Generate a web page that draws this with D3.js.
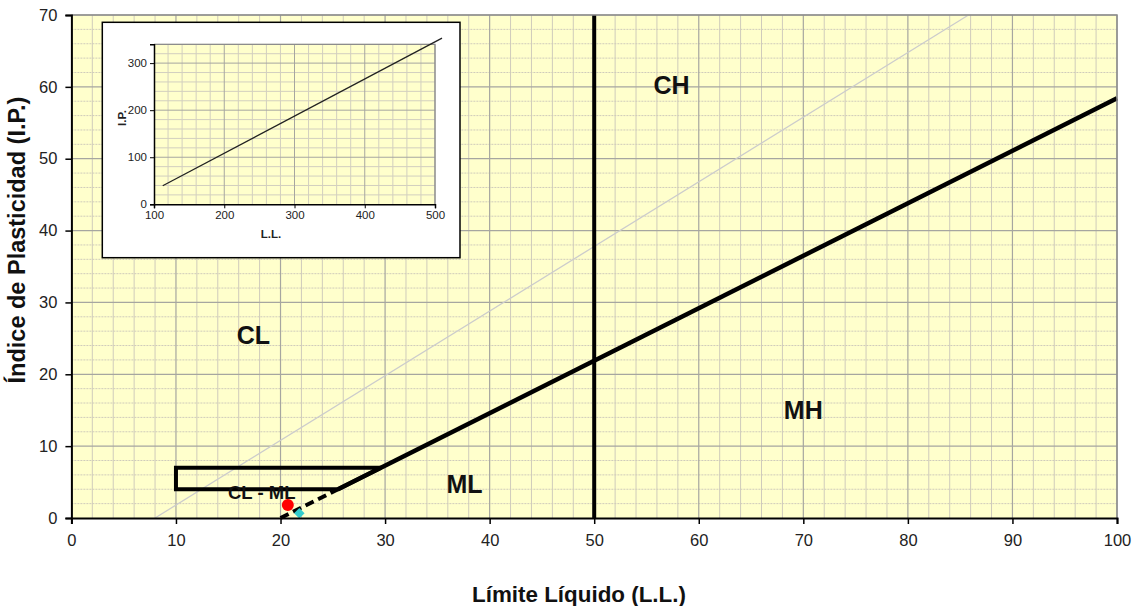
<!DOCTYPE html>
<html>
<head>
<meta charset="utf-8">
<script src="https://cdn.jsdelivr.net/npm/d3@7"></script>
<style>
  html, body { margin: 0; padding: 0; background: #ffffff; }
  svg { display: block; font-family: "Liberation Sans", Arial, sans-serif; }
</style>
</head>
<body>
<svg id="chart" width="1137" height="606"></svg>
<script>
// Plasticity chart (Casagrande) – liquid limit vs plasticity index

// Axis ticks
const llTicks = [0, 10, 20, 30, 40, 50, 60, 70, 80, 90, 100];
const piTicks = [0, 10, 20, 30, 40, 50, 60, 70];
const insetLlTicks = [100, 200, 300, 400, 500];
const insetPiTicks = [0, 100, 200, 300];

// Boundary lines (LL, PI)
const aLine = [[25.5, 4], [100, 58.4]];
const uLine = [[8, 0], [85.8, 70]];
const llFifty = [[50, 0], [50, 70]];
const clMlZone = [[10, 4], [25.5, 4], [29.6, 7], [10, 7]];
const aLineDashed = [[20, 0], [25.5, 4]];

// Samples
const sampleRed = [[20.7, 1.8]];
const sampleCyan = [[21.8, 0.65]];

// Zone labels, anchored in chart units (LL, PI)
const zoneNames = ["CH", "CL", "MH", "ML", "CL - ML"];
const zoneLL = [57.4, 17.4, 70.0, 37.6, 18.2];
const zonePI = [60.2, 25.5, 15.0, 4.7, 3.5];

// A-line continuation for high liquid limits (inset)
const insetLine = [[112.4, 39.4], [510, 353]];

const svg = d3.select("#chart");

// ---------- main chart ----------
const x = d3.scaleLinear().domain([0, 100]).range([71.4, 1117]);
const y = d3.scaleLinear().domain([0, 70]).range([518, 15]);
const line = d3.line().x(d => x(d[0])).y(d => y(d[1]));

const main = svg.append("g");

main.append("rect")
  .attr("x", x(0)).attr("y", y(70))
  .attr("width", x(100) - x(0)).attr("height", y(0) - y(70))
  .attr("fill", "#ffffcc");

// minor grid every 2 units
const minorX = d3.range(0, 101, 2).filter(v => v % 10 !== 0);
const minorY = d3.range(0, 71, 2).filter(v => v % 10 !== 0);
main.append("g").selectAll("line").data(minorX).join("line")
  .attr("x1", d => x(d)).attr("x2", d => x(d))
  .attr("y1", y(0)).attr("y2", y(70))
  .attr("stroke", "#cfcbbb").attr("stroke-width", 1);
main.append("g").selectAll("line").data(minorY).join("line")
  .attr("x1", x(0)).attr("x2", x(100))
  .attr("y1", d => y(d)).attr("y2", d => y(d))
  .attr("stroke", "#cfcbbb").attr("stroke-width", 1).attr("stroke-dasharray", "2,1");

// major grid every 10 units
main.append("g").selectAll("line").data(llTicks.slice(1)).join("line")
  .attr("x1", d => x(d)).attr("x2", d => x(d))
  .attr("y1", y(0)).attr("y2", y(70))
  .attr("stroke", "#a6a6a0").attr("stroke-width", 1.2);
main.append("g").selectAll("line").data(piTicks.slice(1)).join("line")
  .attr("x1", x(0)).attr("x2", x(100))
  .attr("y1", d => y(d)).attr("y2", d => y(d))
  .attr("stroke", "#a6a6a0").attr("stroke-width", 1.2);

// U-line (thin, light)
main.append("path").datum(uLine).attr("d", line)
  .attr("fill", "none").attr("stroke", "#cccccc").attr("stroke-width", 1.3);

// LL = 50
main.append("path").datum(llFifty).attr("d", line)
  .attr("fill", "none").attr("stroke", "#000").attr("stroke-width", 4);

// A-line
main.append("path").datum(aLine).attr("d", line)
  .attr("fill", "none").attr("stroke", "#000").attr("stroke-width", 4.5);

// CL-ML band
main.append("path").datum(clMlZone).attr("d", d => line(d) + "Z")
  .attr("fill", "none").attr("stroke", "#000").attr("stroke-width", 4);

// dashed A-line below PI = 4
main.append("path").datum(aLineDashed).attr("d", line)
  .attr("fill", "none").attr("stroke", "#000").attr("stroke-width", 4)
  .attr("stroke-dasharray", "9,5");

// zone labels
main.append("g").selectAll("text").data(zoneNames).join("text")
  .attr("x", (d, i) => x(zoneLL[i]))
  .attr("y", (d, i) => y(zonePI[i]))
  .attr("text-anchor", "middle")
  .attr("dominant-baseline", "central")
  .attr("font-weight", "bold")
  .attr("font-size", d => d === "CL - ML" ? 18.5 : 25)
  .attr("fill", "#111")
  .text(d => d);

// samples
main.append("g").selectAll("circle").data(sampleRed).join("circle")
  .attr("cx", d => x(d[0])).attr("cy", d => y(d[1])).attr("r", 6)
  .attr("fill", "#ff0000");
main.append("g").selectAll("path").data(sampleCyan).join("path")
  .attr("transform", d => `translate(${x(d[0])},${y(d[1])})`)
  .attr("d", d3.symbol(d3.symbolDiamond2, 70))
  .attr("fill", "#33cccc");

// frame: top/right gray
main.append("path")
  .attr("d", `M${x(0)},${y(70)}H${x(100)}V${y(0)}`)
  .attr("fill", "none").attr("stroke", "#8c8c8c").attr("stroke-width", 1.5);

// axes
const xAxis = main.append("g").attr("transform", `translate(0,${y(0)})`)
  .call(d3.axisBottom(x).tickValues(llTicks).tickSize(6).tickPadding(10));
const yAxis = main.append("g").attr("transform", `translate(${x(0)},0)`)
  .call(d3.axisLeft(y).tickValues(piTicks).tickSize(6).tickPadding(8));
[xAxis, yAxis].forEach(a => {
  a.select(".domain").attr("stroke", "#000").attr("stroke-width", 2);
  a.selectAll(".tick line").attr("stroke", "#000").attr("stroke-width", 1.5);
  a.selectAll(".tick text").attr("font-size", 16.5).attr("fill", "#222")
    .attr("font-family", "'Liberation Sans', Arial, sans-serif");
});

// axis titles
svg.append("text")
  .attr("x", 579).attr("y", 602)
  .attr("text-anchor", "middle")
  .attr("font-weight", "bold").attr("font-size", 22.4).attr("fill", "#111")
  .text("Límite Líquido (L.L.)");
svg.append("text")
  .attr("transform", "translate(25,240) rotate(-90)")
  .attr("text-anchor", "middle")
  .attr("font-weight", "bold").attr("font-size", 23.5).attr("fill", "#111")
  .text("Índice de Plasticidad (I.P.)");

// ---------- inset ----------
const inset = svg.append("g");
inset.append("rect")
  .attr("x", 102.3).attr("y", 22.3).attr("width", 357.7).attr("height", 235.4)
  .attr("fill", "#ffffff").attr("stroke", "#000").attr("stroke-width", 1.5);

const xi = d3.scaleLinear().domain([100, 500]).range([154, 435]);
const yi = d3.scaleLinear().domain([0, 340]).range([204.3, 44.3]);
const lineI = d3.line().x(d => xi(d[0])).y(d => yi(d[1]));

inset.append("rect")
  .attr("x", xi(100)).attr("y", yi(340))
  .attr("width", xi(500) - xi(100)).attr("height", yi(0) - yi(340))
  .attr("fill", "#ffffcc");

const iMinorX = d3.range(100, 501, 20).filter(v => v % 100 !== 0);
const iMinorY = d3.range(0, 341, 20).filter(v => v % 100 !== 0);
inset.append("g").selectAll("line").data(iMinorX).join("line")
  .attr("x1", d => xi(d)).attr("x2", d => xi(d))
  .attr("y1", yi(0)).attr("y2", yi(340))
  .attr("stroke", "#d2cfbf").attr("stroke-width", 1);
inset.append("g").selectAll("line").data(iMinorY).join("line")
  .attr("x1", xi(100)).attr("x2", xi(500))
  .attr("y1", d => yi(d)).attr("y2", d => yi(d))
  .attr("stroke", "#d2cfbf").attr("stroke-width", 1);
inset.append("g").selectAll("line").data(insetLlTicks.slice(1)).join("line")
  .attr("x1", d => xi(d)).attr("x2", d => xi(d))
  .attr("y1", yi(0)).attr("y2", yi(340))
  .attr("stroke", "#a6a6a0").attr("stroke-width", 1);
inset.append("g").selectAll("line").data(insetPiTicks.slice(1)).join("line")
  .attr("x1", xi(100)).attr("x2", xi(500))
  .attr("y1", d => yi(d)).attr("y2", d => yi(d))
  .attr("stroke", "#a6a6a0").attr("stroke-width", 1);

inset.append("path")
  .attr("d", `M${xi(100)},${yi(340)}H${xi(500)}V${yi(0)}`)
  .attr("fill", "none").attr("stroke", "#8c8c8c").attr("stroke-width", 1.2);

const xiAxis = inset.append("g").attr("transform", `translate(0,${yi(0)})`)
  .call(d3.axisBottom(xi).tickValues(insetLlTicks).tickSize(4).tickPadding(3));
const yiAxis = inset.append("g").attr("transform", `translate(${xi(100)},0)`)
  .call(d3.axisLeft(yi).tickValues(insetPiTicks).tickSize(4).tickPadding(3));
[xiAxis, yiAxis].forEach(a => {
  a.select(".domain").attr("stroke", "#000").attr("stroke-width", 1.5);
  a.selectAll(".tick line").attr("stroke", "#000");
  a.selectAll(".tick text").attr("font-size", 11.5).attr("fill", "#222")
    .attr("font-family", "'Liberation Sans', Arial, sans-serif");
});

inset.append("path").datum(insetLine).attr("d", lineI)
  .attr("fill", "none").attr("stroke", "#222").attr("stroke-width", 1.3);

inset.append("text")
  .attr("x", 271).attr("y", 238)
  .attr("text-anchor", "middle")
  .attr("font-weight", "bold").attr("font-size", 11.5).attr("fill", "#222")
  .text("L.L.");
inset.append("text")
  .attr("transform", "translate(126,118) rotate(-90)")
  .attr("text-anchor", "middle")
  .attr("font-weight", "bold").attr("font-size", 11.5).attr("fill", "#222")
  .text("I.P.");
</script>
</body>
</html>
